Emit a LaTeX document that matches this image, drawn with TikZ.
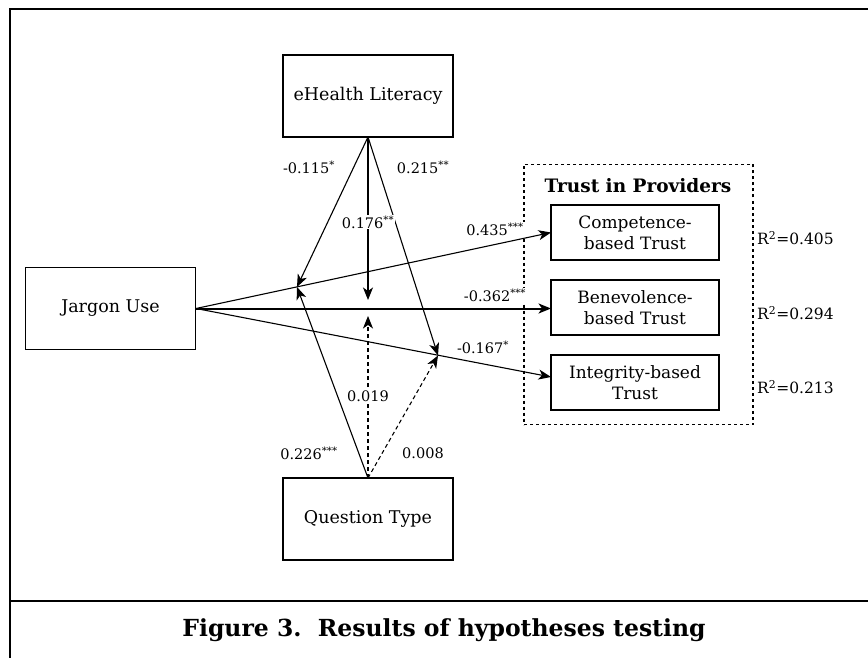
\documentclass[tikz,border=0pt]{standalone}
\usepackage{fontspec}
\setmainfont{DejaVu Serif}
\usetikzlibrary{arrows.meta}
\begin{document}
\begin{tikzpicture}[x=1pt,y=-1pt,
  box/.style={draw, line width=1.4pt, minimum width=170pt, minimum height=82pt, font=\fontsize{17.5}{20}\selectfont, align=center},
  tbox/.style={draw, line width=1.4pt, minimum width=168pt, minimum height=55pt, inner sep=1pt, font=\fontsize{17}{21}\selectfont, align=center},
  lab/.style={fill=white, inner sep=1pt, font=\fontsize{14.5}{16}\selectfont},
  rlab/.style={anchor=west, inner sep=0pt, font=\fontsize{15.5}{18}\selectfont},
  arr/.style={line width=1.1pt, -{Stealth[length=12.5pt,width=10pt,inset=3.5pt]}},
  darr/.style={arr, dash pattern=on 4pt off 3pt},
  frame/.style={line width=2.6pt}]
\useasboundingbox (0,0) rectangle (868,658);
\coordinate (fbl) at (10,658);
\coordinate (ftl) at (10,9);
\coordinate (ftr) at (868,9);
\coordinate (fsl) at (10,601);
\coordinate (fsr) at (868,601);
\draw[frame] (fbl) -- (ftl) -- (ftr);
\draw[frame] (fsl) -- (fsr);

\node[box] (eh) at (368,96) {eHealth Literacy};
\node[box] (jar) at (110.5,308.5) {Jargon Use};
\node[box] (qt) at (368,519) {Question Type};

\node[draw, line width=1.2pt, dash pattern=on 3pt off 3pt, minimum width=229pt, minimum height=260pt] (grp) at (638.5,294.5) {};
\node[font=\fontsize{18.5}{22}\selectfont\bfseries] (title) at (638,186) {Trust in Providers};
\node[tbox] (comp) at (635,232.5) {Competence-\\based Trust};
\node[tbox] (bene) at (635,307.5) {Benevolence-\\based Trust};
\node[tbox] (integ) at (635,382.5) {Integrity-based\\Trust};

\node[rlab] (r1) at (757,238) {R\textsuperscript{2}=0.405};
\node[rlab] (r2) at (757,313) {R\textsuperscript{2}=0.294};
\node[rlab] (r3) at (757,387) {R\textsuperscript{2}=0.213};

\coordinate (cin) at (551,232.5);
\coordinate (bin) at (551,308.5);
\coordinate (iin) at (551,377);
\coordinate (jout) at (196,308.5);
\coordinate (ehb) at (368,137);
\coordinate (qtt) at (368,478);
\coordinate (m1) at (297,287);
\coordinate (m2) at (368,300);
\coordinate (m3) at (368,316);
\coordinate (m4) at (438,355.5);

\draw[arr] (jout) -- (cin);
\draw[arr, line width=2pt] (jout) -- (bin);
\draw[arr] (jout) -- (iin);

\draw[arr] (ehb) -- (m1);
\draw[arr] (ehb) -- (m4);
\draw[arr] (ehb) -- (m2);
\draw[arr] (qtt) -- (m1);
\draw[darr] (qtt) -- (m4);
\draw[darr] (qtt) -- (m3);

\node[lab] (l176) at (368,222) {0.176\textsuperscript{**}};
\node[lab] (l435) at (495,229) {0.435\textsuperscript{***}};
\node[lab] (l362) at (495,295) {-0.362\textsuperscript{***}};
\node[lab] (l167) at (483,347) {-0.167\textsuperscript{*}};
\node[lab] (l115) at (309,167) {-0.115\textsuperscript{*}};
\node[lab] (l215) at (423,167) {0.215\textsuperscript{**}};
\node[lab] (l019) at (368,396) {0.019};
\node[lab] (l226) at (309,453) {0.226\textsuperscript{***}};
\node[lab] (l008) at (423,453) {0.008};

\node[font=\fontsize{23.5}{28}\selectfont\bfseries] (cap) at (444,630) {Figure 3.\ \ Results of hypotheses testing};
\end{tikzpicture}
\end{document}
